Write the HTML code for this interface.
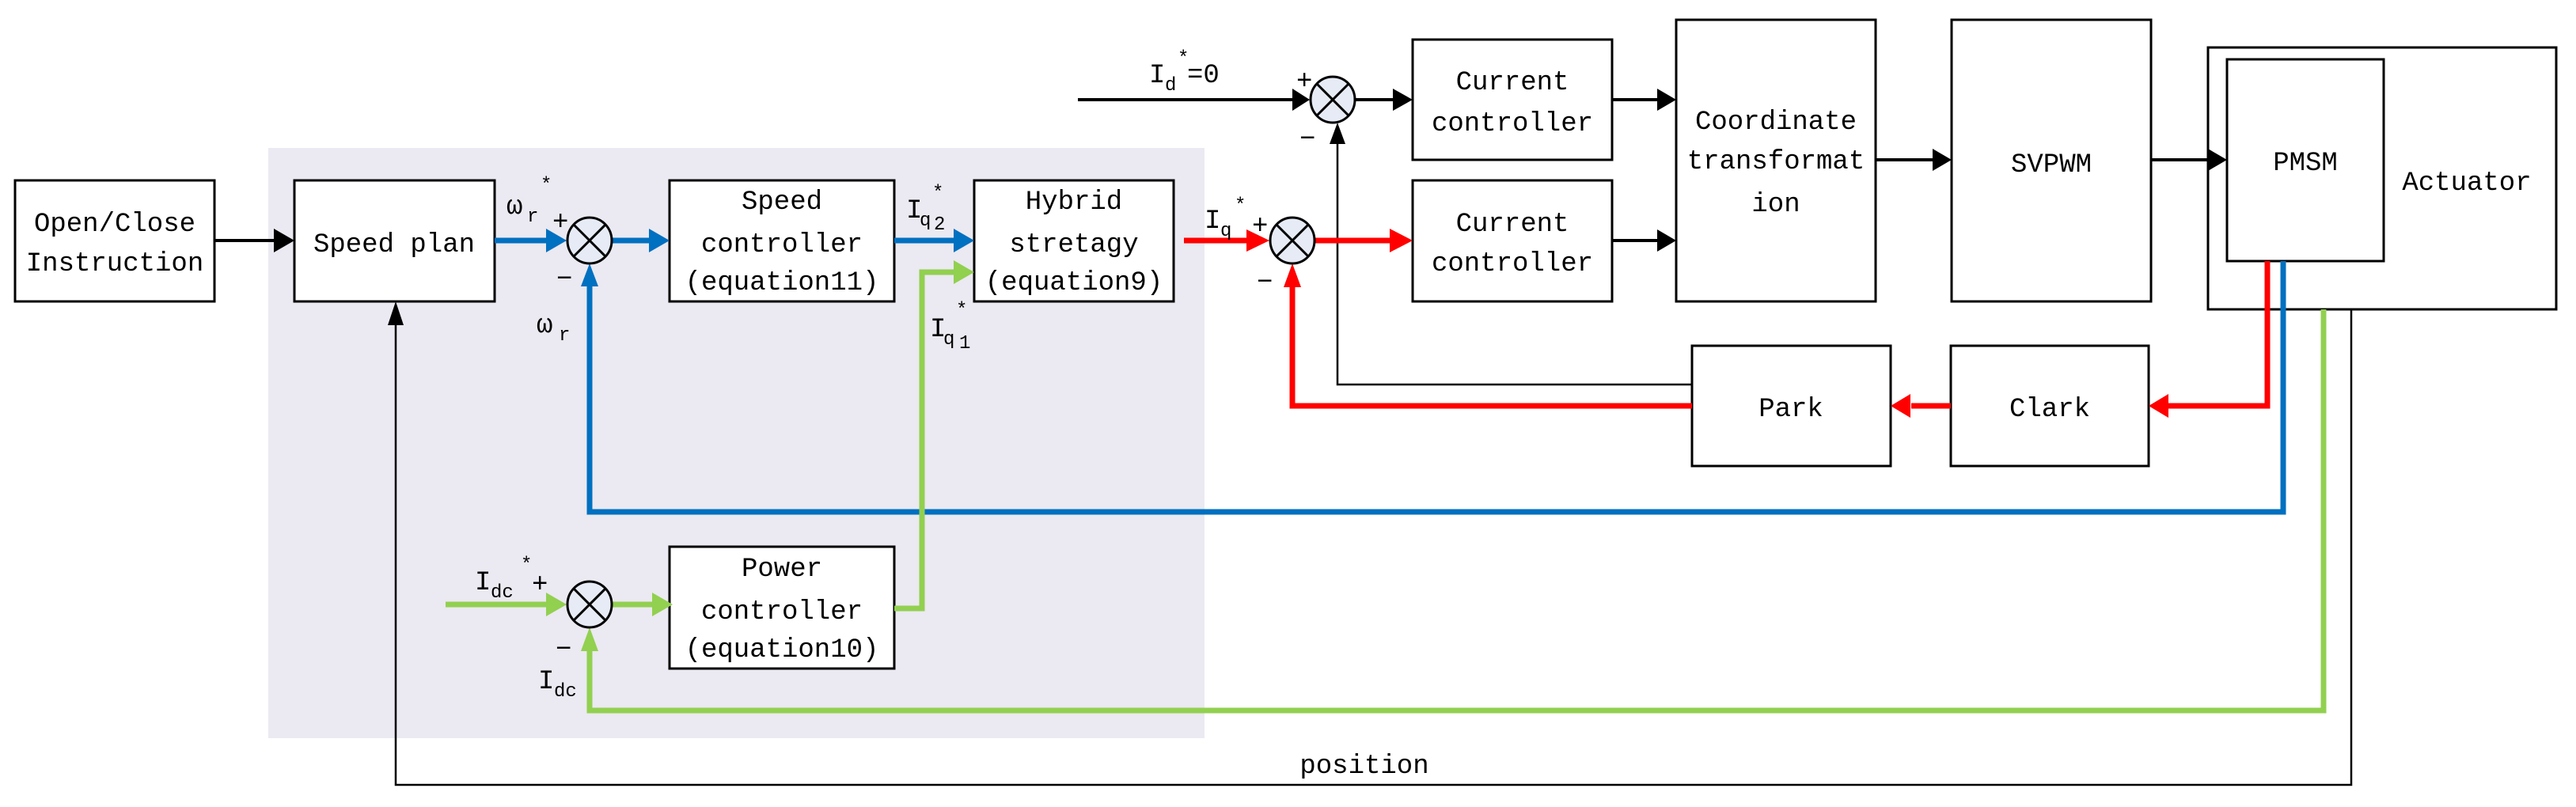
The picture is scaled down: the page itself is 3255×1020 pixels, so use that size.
<!DOCTYPE html>
<html><head><meta charset="utf-8"><style>
html,body{margin:0;padding:0;background:#fff;}
svg{display:block;}
text{font-family:"Liberation Mono",monospace;font-size:34px;fill:#000;}
.s{font-size:24px;}
</style></head><body>
<svg width="3255" height="1020" viewBox="0 0 3255 1020" xmlns="http://www.w3.org/2000/svg">
<rect x="339" y="187" width="1183" height="746" fill="#EBE9F1"/>
<g fill="#fff" stroke="#000" stroke-width="3">
<rect x="19" y="228" width="252" height="153"/>
<rect x="372" y="228" width="253" height="153"/>
<rect x="846" y="228" width="284" height="153"/>
<rect x="1231" y="228" width="252" height="153"/>
<rect x="846" y="691" width="284" height="154"/>
<rect x="1785" y="50" width="252" height="152"/>
<rect x="1785" y="228" width="252" height="153"/>
<rect x="2118" y="25" width="252" height="356"/>
<rect x="2466" y="25" width="252" height="356"/>
<rect x="2790" y="60" width="440" height="331"/>
<rect x="2814" y="75" width="198" height="255"/>
<rect x="2138" y="437" width="251" height="152"/>
<rect x="2465" y="437" width="250" height="152"/>
</g>
<!-- black lines -->
<g stroke="#000" fill="none">
<line x1="271" y1="304" x2="350" y2="304" stroke-width="4"/>
<line x1="1362" y1="126" x2="1635" y2="126" stroke-width="4"/>
<line x1="1713" y1="126" x2="1765" y2="126" stroke-width="4"/>
<line x1="2037" y1="126" x2="2098" y2="126" stroke-width="4"/>
<line x1="2037" y1="304" x2="2098" y2="304" stroke-width="4"/>
<line x1="2370" y1="202" x2="2446" y2="202" stroke-width="4"/>
<line x1="2718" y1="202" x2="2794" y2="202" stroke-width="4"/>
<polyline points="2138,486 1690,486 1690,180" stroke-width="2.5"/>
<polyline points="2971,391 2971,992 500,992 500,405" stroke-width="2.5"/>
</g>
<g fill="#000">
<polygon points="372,304 346,289 346,319"/>
<polygon points="1655,126 1633,112 1633,140"/>
<polygon points="1785,126 1760,112 1760,140"/>
<polygon points="2118,126 2094,112 2094,140"/>
<polygon points="2118,304 2094,290 2094,318"/>
<polygon points="2466,202 2442,188 2442,216"/>
<polygon points="2814,202 2790,188 2790,216"/>
<polygon points="1690,155 1680,182 1700,182"/>
<polygon points="500,381 490,411 510,411"/>
</g>
<!-- blue -->
<g stroke="#0070C0" stroke-width="7" fill="none">
<line x1="625" y1="304" x2="695" y2="304"/>
<line x1="774" y1="304" x2="825" y2="304"/>
<line x1="1130" y1="304" x2="1210" y2="304"/>
<polyline points="2885,330 2885,647 745,647 745,360"/>
</g>
<g fill="#0070C0">
<polygon points="716,304 690,289 690,319"/>
<polygon points="846,304 820,289 820,319"/>
<polygon points="1231,304 1205,289 1205,319"/>
<polygon points="745,333 734,362 756,362"/>
</g>
<!-- green -->
<g stroke="#92D050" stroke-width="7" fill="none">
<line x1="563" y1="764" x2="695" y2="764"/>
<line x1="774" y1="764" x2="825" y2="764"/>
<polyline points="1130,769 1165,769 1165,344 1210,344"/>
<polyline points="2936,391 2936,898 745,898 745,820"/>
</g>
<g fill="#92D050">
<polygon points="716,764 690,749 690,779"/>
<polygon points="850,764 824,749 824,779"/>
<polygon points="1231,344 1205,329 1205,359"/>
<polygon points="745,793 734,823 756,823"/>
</g>
<!-- red -->
<g stroke="#FF0000" stroke-width="7" fill="none">
<line x1="1496" y1="304" x2="1580" y2="304"/>
<line x1="1662" y1="304" x2="1760" y2="304"/>
<polyline points="2865,330 2865,513 2740,513"/>
<line x1="2465" y1="513" x2="2415" y2="513"/>
<polyline points="2138,513 1633,513 1633,362"/>
</g>
<g fill="#FF0000">
<polygon points="1604,304 1575,290 1575,318"/>
<polygon points="1785,304 1756,289 1756,319"/>
<polygon points="2715,513 2740,498 2740,528"/>
<polygon points="2389,513 2414,498 2414,528"/>
<polygon points="1633,333 1622,363 1644,363"/>
</g>
<!-- summing junctions -->
<g stroke="#000" stroke-width="3" fill="#E6EBF5">
<ellipse cx="745" cy="304" rx="28" ry="29"/>
<ellipse cx="745" cy="764" rx="28" ry="29"/>
<ellipse cx="1684" cy="126" rx="28" ry="29"/>
<ellipse cx="1633" cy="304" rx="28" ry="29"/>
</g>
<g stroke="#000" stroke-width="3">
<path d="M725 284L765 324M765 284L725 324"/>
<path d="M725 744L765 784M765 744L725 784"/>
<path d="M1664 106L1704 146M1704 106L1664 146"/>
<path d="M1613 284L1653 324M1653 284L1613 324"/>
</g>
<!-- box texts -->
<g text-anchor="middle">
<text x="145" y="292">Open/Close</text>
<text x="145" y="342">Instruction</text>
<text x="498" y="318">Speed plan</text>
<text x="988" y="264">Speed</text>
<text x="988" y="318">controller</text>
<text x="988" y="366">(equation11)</text>
<text x="1357" y="264">Hybrid</text>
<text x="1357" y="318">stretagy</text>
<text x="1357" y="366">(equation9)</text>
<text x="988" y="728">Power</text>
<text x="988" y="782">controller</text>
<text x="988" y="830">(equation10)</text>
<text x="1911" y="113">Current</text>
<text x="1911" y="165">controller</text>
<text x="1911" y="292">Current</text>
<text x="1911" y="342">controller</text>
<text x="2244" y="163">Coordinate</text>
<text x="2244" y="213">transformat</text>
<text x="2244" y="267">ion</text>
<text x="2592" y="217">SVPWM</text>
<text x="2913" y="215">PMSM</text>
<text x="3117" y="240">Actuator</text>
<text x="2263" y="526">Park</text>
<text x="2590" y="526">Clark</text>
<text x="1724" y="977">position</text>
</g>
<!-- signal labels -->
<text x="640" y="270">ω</text><text class="s" x="666" y="280">r</text><text class="s" x="683" y="240">*</text>
<text x="698" y="290">+</text>
<text x="703" y="362">−</text>
<text x="678" y="420">ω</text><text class="s" x="706" y="430">r</text>
<text x="1145" y="275">I</text><text class="s" x="1162" y="285">q</text><text class="s" x="1178" y="250">*</text><text class="s" x="1180" y="290">2</text>
<text x="1175" y="425">I</text><text class="s" x="1192" y="435">q</text><text class="s" x="1208" y="398">*</text><text class="s" x="1212" y="440">1</text>
<text x="1522" y="288">I</text><text class="s" x="1542" y="298">q</text><text class="s" x="1560" y="266">*</text>
<text x="1582" y="295">+</text>
<text x="1588" y="366">−</text>
<text x="1452" y="104">I</text><text class="s" x="1472" y="114">d</text><text class="s" x="1488" y="80">*</text><text x="1500" y="104">=0</text>
<text x="1638" y="112">+</text>
<text x="1642" y="185">−</text>
<text x="600" y="745">I</text><text class="s" x="620" y="755">dc</text><text class="s" x="658" y="720">*</text>
<text x="672" y="748">+</text>
<text x="702" y="830">−</text>
<text x="680" y="870">I</text><text class="s" x="700" y="880">dc</text>
</svg>
</body></html>
